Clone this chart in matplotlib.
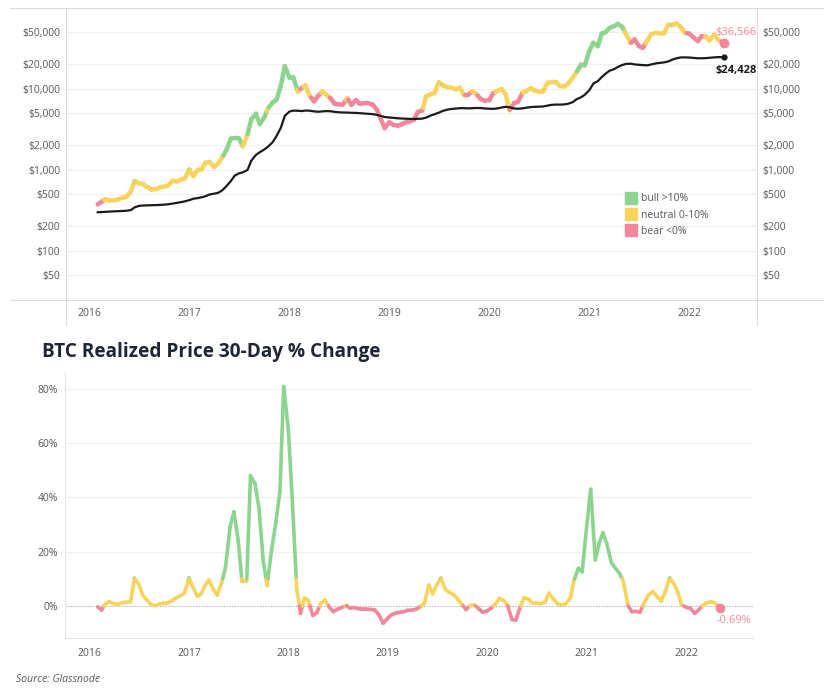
import numpy as np
import pandas as pd
import matplotlib
matplotlib.use('Agg')
import matplotlib.pyplot as plt
import matplotlib.dates as mdates
from matplotlib.collections import LineCollection
from matplotlib.lines import Line2D
from matplotlib.ticker import FuncFormatter, NullLocator

plt.rcParams['font.family'] = ['Open Sans', 'DejaVu Sans']

# semi-monthly samples (1st / 15th), last point is the latest reading
dates = pd.date_range('2016-02-01', '2022-04-15', freq='SMS').append(pd.DatetimeIndex(['2022-05-06']))

btc_price = [
    372, 400, 433, 415, 417, 429, 451, 457, 537, 720, 677, 663, 606, 567, 572, 607, 616, 638, 730, 711, 753, 778,
    998, 830, 989, 1008, 1222, 1243, 1079, 1180, 1421, 1722, 2407, 2455, 2434, 1929, 2718, 4200, 4892, 3637, 4403, 5710, 6737, 7301, 10975, 19000,
    13657, 13820, 9170, 10200, 10950, 8260, 6970, 8060, 9240, 8500, 7540, 6500, 6400, 6350, 7600, 6300, 7200, 6500, 6600, 6600, 6350, 5600, 4200, 3250,
    3843, 3570, 3480, 3620, 3820, 3920, 4110, 5150, 5350, 7990, 8550, 8800, 12000, 11000, 10400, 10300, 9760, 10300, 8300, 8350, 9250, 8600, 7420, 7100,
    7200, 8800, 9390, 9900, 8560, 5400, 6640, 6870, 8830, 9310, 10200, 9440, 9230, 9190, 11800, 11900, 11900, 10800, 10620, 11500, 13750, 15960, 19700, 19400,
    29400, 36800, 33500, 48000, 49600, 56000, 59000, 63100, 57800, 46700, 36700, 40500, 33500, 31800, 39800, 47000, 48800, 48100, 48200, 61500, 61300, 63700, 57200, 48900,
    47700, 43100, 38700, 44500, 44400, 39300, 46300, 40500, 36566,
]

realized_price = [
    297, 299, 301, 303, 305, 306, 308, 310, 316, 342, 356, 360, 362, 363, 364, 366, 369, 373, 380, 388, 396, 405,
    420, 436, 445, 455, 470, 492, 505, 515, 555, 620, 720, 840, 900, 925, 990, 1290, 1520, 1640, 1770, 1920, 2180, 2600, 3300, 4600,
    5200, 5350, 5330, 5280, 5360, 5340, 5230, 5180, 5230, 5280, 5250, 5160, 5100, 5070, 5060, 5030, 5010, 4970, 4930, 4890, 4840, 4760, 4600, 4460,
    4400, 4340, 4300, 4270, 4250, 4230, 4220, 4230, 4260, 4380, 4650, 4820, 5050, 5300, 5500, 5600, 5680, 5730, 5740, 5700, 5740, 5760, 5760, 5680,
    5640, 5620, 5700, 5840, 5960, 5880, 5680, 5640, 5700, 5800, 5920, 5950, 5990, 6020, 6160, 6300, 6350, 6340, 6380, 6500, 6800, 7400, 7800, 8400,
    9600, 11500, 12400, 13900, 15300, 16600, 17400, 18500, 19600, 20200, 20300, 19900, 19700, 19500, 19400, 19900, 20500, 20800, 21100, 21600, 22900, 23700, 24300, 24300,
    24200, 24000, 23700, 23700, 23800, 24000, 24300, 24500, 24428,
]

# realized price 30-day % change
rp_change = [
    -0.3, -1.5, 0.8, 1.6, 0.8, 0.6, 1.2, 1.4, 1.6, 10.2, 8.0, 4.0, 2.0, 0.6, 0.1, 0.8, 1.0, 1.1, 2.0, 3.0, 3.8, 4.7,
    10.3, 7.0, 3.5, 4.5, 7.5, 9.6, 6.0, 4.0, 8.5, 14.0, 29.0, 34.7, 24.0, 9.0, 9.2, 48.0, 45.0, 36.0, 16.5, 7.5, 21.0, 30.0, 42.0, 80.8,
    65.0, 40.0, 6.0, -2.7, 3.0, 2.0, -3.5, -2.5, 1.0, 2.2, -0.5, -2.1, -1.2, -0.6, 0.2, -0.8, -0.6, -1.0, -1.2, -1.2, -1.3, -1.5, -3.5, -6.4,
    -4.5, -3.2, -2.6, -2.3, -2.1, -1.6, -1.5, -1.2, -0.2, 0.8, 7.7, 4.5, 8.0, 10.2, 6.0, 5.0, 4.0, 2.5, 0.5, -1.3, 0.2, 0.4, -1.0, -2.3,
    -1.8, -0.9, 0.8, 2.8, 2.0, 0.5, -5.0, -5.2, -0.5, 3.0, 2.5, 1.0, 1.2, 0.8, 1.5, 4.7, 2.5, 0.8, 0.4, 0.8, 2.8, 9.5, 13.9, 12.6,
    30.0, 43.0, 17.0, 23.0, 27.0, 23.0, 16.0, 14.0, 12.0, 9.0, 0.2, -2.1, -2.0, -2.3, 1.5, 4.0, 5.3, 3.5, 1.8, 5.0, 10.3, 8.5, 5.0, 0.4,
    -0.5, -0.8, -2.7, -1.5, 0.1, 1.0, 1.6, 1.2, -0.69,
]

price_ticks = [50, 100, 200, 500, 1000, 2000, 5000, 10000, 20000, 50000]
pct_ticks = [0, 20, 40, 60, 80]
regime_labels = ['bull >10%', 'neutral 0-10%', 'bear <0%']

GREEN, YELLOW, PINK = '#8dd58f', '#f9d45c', '#f2879b'
TXT = '#575757'


def regime_color(v):
    if v > 10:
        return GREEN
    if v >= 0:
        return YELLOW
    return PINK


def regime_segments(xv, yv, chg):
    # cut each step where the % change crosses 0 or 10 so colours switch there
    segs, cols = [], []
    for i in range(len(xv) - 1):
        c0, c1 = chg[i], chg[i + 1]
        ts = [0.0, 1.0]
        for thr in (0.0, 10.0):
            if (c0 - thr) * (c1 - thr) < 0:
                ts.append((thr - c0) / (c1 - c0))
        ts.sort()
        for a, b in zip(ts[:-1], ts[1:]):
            pts = [(xv[i] + t * (xv[i + 1] - xv[i]), yv[i] + t * (yv[i + 1] - yv[i])) for t in (a, b)]
            segs.append(pts)
            cols.append(regime_color(c0 + (a + b) / 2 * (c1 - c0)))
    return segs, cols


x = mdates.date2num(dates)
price = np.array(btc_price, float)
realized = np.array(realized_price, float)
chg = np.array(rp_change, float)

fig = plt.figure(figsize=(8.24, 7.0), dpi=100)
W, H = 824, 700

# ---- top: price vs realized price (log) ----
ax1 = fig.add_axes([66 / W, 1 - 300 / H, 691 / W, 292 / H])
ax1.set_yscale('log')
segs, cols = regime_segments(x, np.log10(price), chg)
segs = [[(px, 10 ** py) for px, py in s] for s in segs]
ax1.add_collection(LineCollection(segs, colors=cols, linewidths=3.2, capstyle='round', joinstyle='round', zorder=2))
ax1.plot(x, realized, color='#1b1b1b', lw=1.6, zorder=3)
ax1.plot(x[-1], price[-1], 'o', color=PINK, ms=6, zorder=4)
ax1.plot(x[-1], realized[-1], 'o', color='#1b1b1b', ms=3.5, zorder=4)
ax1.annotate(f'${price[-1]:,.0f}', xy=(x[-1], price[-1]), xytext=(33, 11), textcoords='offset pixels',
             ha='right', va='center', fontsize=8, color=PINK)
ax1.annotate(f'${realized[-1]:,.0f}', xy=(x[-1], realized[-1]), xytext=(33, -13), textcoords='offset pixels',
             ha='right', va='center', fontsize=8, color='#1b1b1b', fontweight='bold')

ax1.set_xlim(mdates.datestr2num('2015-10-08'), mdates.datestr2num('2022-09-05'))
ax1.set_ylim(24.5, 99000)
ax1.set_yticks(price_ticks)
ax1.yaxis.set_major_formatter(FuncFormatter(lambda v, p: f'${v:,.0f}'))
ax1.yaxis.set_minor_locator(NullLocator())
ax1.tick_params(axis='y', length=0, labelleft=True, labelright=True, pad=4, labelsize=7.5, labelcolor=TXT)
ax1.xaxis.set_major_locator(mdates.YearLocator())
ax1.xaxis.set_major_formatter(mdates.DateFormatter('%Y'))
ax1.tick_params(axis='x', length=0, pad=6, labelsize=7.5, labelcolor=TXT)
ax1.grid(axis='y', color='#efefef', lw=0.8)
ax1.set_axisbelow(True)
for s in ax1.spines.values():
    s.set_visible(False)

handles = [Line2D([], [], marker='s', ls='', color=c, ms=9) for c in (GREEN, YELLOW, PINK)]
ax1.legend(handles, regime_labels, loc='upper left', bbox_to_anchor=(0.81, 0.365), frameon=False,
           fontsize=7.5, labelcolor=TXT, handletextpad=0.5, labelspacing=0.5, borderpad=0,
           borderaxespad=0, handlelength=1.0)

# pane borders around the top chart
line_kw = dict(color='#dcdcdc', lw=0.8)
fig.add_artist(Line2D([10 / W, 1], [1 - 8 / H] * 2, **line_kw))
fig.add_artist(Line2D([10 / W, 1], [1 - 300 / H] * 2, **line_kw))
fig.add_artist(Line2D([66 / W] * 2, [1 - 8 / H, 1 - 325 / H], **line_kw))
fig.add_artist(Line2D([757 / W] * 2, [1 - 8 / H, 1 - 325 / H], **line_kw))

# ---- bottom: realized price 30-day % change ----
fig.text(42 / W, 1 - 352 / H, 'BTC Realized Price 30-Day % Change', fontsize=13.7, fontweight='bold',
         color='#1e2636', ha='left', va='center')
ax2 = fig.add_axes([65 / W, 1 - 638 / H, 688 / W, 265 / H])
segs2, cols2 = regime_segments(x, chg, chg)
ax2.add_collection(LineCollection(segs2, colors=cols2, linewidths=2.6, capstyle='round', joinstyle='round', zorder=3))
ax2.axhline(0, color='#b5b5b5', lw=0.8, ls=(0, (1, 1.5)), zorder=2)
ax2.plot(x[-1], chg[-1], 'o', color=PINK, ms=6, zorder=4)
ax2.annotate(f'{chg[-1]:.2f}%', xy=(x[-1], chg[-1]), xytext=(31, -13), textcoords='offset pixels',
             ha='right', va='center', fontsize=8, color=PINK)

ax2.set_xlim(mdates.datestr2num('2015-10-04'), mdates.datestr2num('2022-09-03'))
ax2.set_ylim(-11.8, 85.8)
ax2.set_yticks(pct_ticks)
ax2.set_yticklabels([f'{t}%' for t in pct_ticks])
ax2.tick_params(axis='y', length=0, pad=5, labelsize=7.5, labelcolor=TXT)
ax2.xaxis.set_major_locator(mdates.YearLocator())
ax2.xaxis.set_major_formatter(mdates.DateFormatter('%Y'))
ax2.tick_params(axis='x', length=0, pad=7, labelsize=7.5, labelcolor=TXT)
ax2.grid(axis='y', color='#efefef', lw=0.8)
ax2.set_axisbelow(True)
ax2.spines['top'].set_visible(False)
ax2.spines['right'].set_visible(False)
for k in ('left', 'bottom'):
    ax2.spines[k].set_color('#e3e3e3')
    ax2.spines[k].set_linewidth(0.8)

fig.text(16 / W, 1 - 680 / H, 'Source: Glassnode', fontsize=7.5, style='italic', color=TXT, ha='left', va='center')

fig.savefig('out.png', dpi=100)
